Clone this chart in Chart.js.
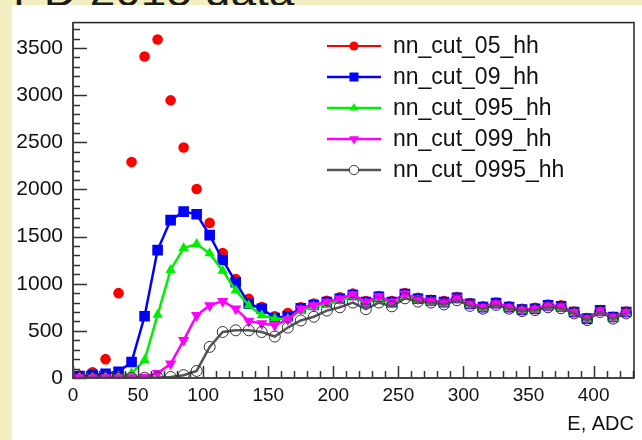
<!DOCTYPE html>
<html>
<head>
<meta charset="utf-8">
<script src="https://cdn.jsdelivr.net/npm/chart.js@4.4.0/dist/chart.umd.min.js"></script>
<style>
  body { margin: 0; background: #f1efc1; width: 642px; height: 440px; overflow: hidden; position: relative; }
  #title { position: absolute; left: 13px; top: -33px; font: 46px "Liberation Sans", Arial, sans-serif; line-height: 46px; color: #1b1b1b; white-space: nowrap; }
  #pad { position: absolute; left: 12px; top: 5px; width: 630px; height: 435px; background: #fff; }
  #c { position: absolute; left: 0; top: 0; }
</style>
</head>
<body>
<div id="title">PD 2015 data</div>
<div id="pad"></div>
<canvas id="c" width="642" height="440"></canvas>
<script>
// bin centres on E, ADC (10 ADC wide bins)
const binCenters = [5, 15, 25, 35, 45, 55, 65, 75, 85, 95, 105, 115, 125, 135, 145, 155, 165, 175, 185, 195,
    205, 215, 225, 235, 245, 255, 265, 275, 285, 295, 305, 315, 325, 335, 345, 355, 365, 375, 385, 395,
    405, 415, 425];

const cut05 = [25, 60, 200, 900, 2290, 3410, 3590, 2945, 2445, 2005, 1645, 1325, 1050, 840, 752, 655, 690, 750, 790, 820,
    855, 895, 815, 870, 815, 900, 850, 830, 815, 860, 795, 760, 800, 760, 735, 745, 780, 770, 705, 635,
    720, 650, 705];
const cut09 = [20, 30, 45, 65, 170, 655, 1357, 1675, 1765, 1737, 1516, 1252, 1016, 788, 735, 636, 654, 740, 775, 805,
    840, 880, 805, 860, 805, 890, 840, 823, 805, 850, 788, 752, 794, 752, 725, 735, 770, 760, 700, 630,
    717, 647, 700];
const cut095 = [5, 5, 10, 15, 50, 190, 670, 1146, 1378, 1421, 1322, 1139, 928, 770, 665, 630, 625, 715, 755, 785,
    820, 865, 790, 845, 790, 875, 825, 810, 790, 835, 775, 740, 780, 740, 715, 725, 755, 745, 690, 620,
    705, 635, 690];
const cut099 = [5, 5, 5, 5, 5, 10, 50, 150, 400, 665, 770, 815, 735, 605, 577, 560, 620, 735, 770, 805,
    840, 885, 805, 865, 805, 893, 840, 823, 805, 850, 788, 752, 794, 752, 725, 735, 770, 760, 700, 630,
    717, 647, 700];
const cut0995 = [2, 2, 2, 2, 2, 3, 5, 10, 30, 75, 330, 488, 506, 506, 488, 440, 535, 610, 650, 715,
    750, 800, 730, 800, 760, 845, 810, 800, 780, 825, 765, 735, 775, 735, 710, 720, 750, 740, 685, 615,
    700, 630, 685];

const seriesNames = ['nn_cut_05_hh', 'nn_cut_09_hh', 'nn_cut_095_hh', 'nn_cut_099_hh', 'nn_cut_0995_hh'];
const xTickValues = [0, 50, 100, 150, 200, 250, 300, 350, 400];
const yTickValues = [0, 500, 1000, 1500, 2000, 2500, 3000, 3500];

const FONT = '"Liberation Sans", Arial, Helvetica, sans-serif';

function pts(values) {
    return values.map((v, i) => ({ x: binCenters[i], y: v }));
}

const datasets = [
    { label: seriesNames[0], data: pts(cut05), borderColor: '#ff0000', backgroundColor: '#ff0000',
      showLine: false, pointStyle: 'circle', pointRadius: 5.3, pointBorderWidth: 0, borderWidth: 2, order: 5 },
    { label: seriesNames[1], data: pts(cut09), borderColor: '#0000ff', backgroundColor: '#0000ff',
      pointStyle: 'rect', pointRadius: 7.5, pointBorderWidth: 0, borderWidth: 2.5, order: 4 },
    { label: seriesNames[2], data: pts(cut095), borderColor: '#00ee00', backgroundColor: '#00ee00',
      pointStyle: 'triangle', pointRadius: 6, pointBorderWidth: 0, borderWidth: 2.5, order: 3 },
    { label: seriesNames[3], data: pts(cut099), borderColor: '#ff00ff', backgroundColor: '#ff00ff',
      pointStyle: 'triangle', pointRotation: 180, pointRadius: 6.5, pointBorderWidth: 0, borderWidth: 2.5, order: 2 },
    { label: seriesNames[4], data: pts(cut0995), borderColor: '#555555', backgroundColor: 'rgba(0,0,0,0)',
      pointBorderColor: '#333333', pointBackgroundColor: 'rgba(0,0,0,0)',
      pointStyle: 'circle', pointRadius: 5.5, pointBorderWidth: 1, borderWidth: 2.5, order: 1 }
];

// ROOT-like frame, inward ticks and line+marker legend
const rootFrame = {
    id: 'rootFrame',
    afterDatasetsDraw(chart) {
        const ctx = chart.ctx;
        const a = chart.chartArea;
        const xs = chart.scales.x, ys = chart.scales.y;
        ctx.save();
        ctx.strokeStyle = '#333';
        ctx.lineWidth = 1.5;
        ctx.beginPath();
        for (let v = 0; v <= xs.max; v += 10) {
            const px = Math.round(xs.getPixelForValue(v)) + 0.5;
            const len = v % 50 === 0 ? 12 : 7;
            ctx.moveTo(px, a.bottom);
            ctx.lineTo(px, a.bottom - len);
        }
        for (let v = 0; v <= ys.max; v += 100) {
            const py = Math.round(ys.getPixelForValue(v)) + 0.5;
            const len = v % 500 === 0 ? 14 : 7;
            ctx.moveTo(a.left, py);
            ctx.lineTo(a.left + len, py);
        }
        ctx.stroke();
        ctx.strokeStyle = '#222';
        ctx.lineWidth = 1.5;
        ctx.strokeRect(a.left, a.top, a.right - a.left, a.bottom - a.top);
        ctx.lineWidth = 2;
        ctx.strokeStyle = '#444';
        ctx.beginPath();
        ctx.moveTo(a.left, a.top);
        ctx.lineTo(a.left, a.bottom);
        ctx.lineTo(a.right, a.bottom);
        ctx.stroke();

        // legend
        const x0 = 327, x1 = 381, xm = 354, tx = 393, y0 = 46, dy = 31;
        chart.data.datasets.forEach((ds, i) => {
            const y = y0 + i * dy;
            ctx.strokeStyle = ds.borderColor;
            ctx.lineWidth = ds.borderWidth;
            ctx.beginPath();
            ctx.moveTo(x0, y);
            ctx.lineTo(x1, y);
            ctx.stroke();
            ctx.fillStyle = ds.pointBackgroundColor || ds.backgroundColor;
            if (ds.label === seriesNames[4]) ctx.fillStyle = '#ffffff';
            ctx.strokeStyle = ds.pointBorderColor || ds.borderColor;
            ctx.lineWidth = ds.pointBorderWidth;
            Chart.helpers.drawPoint(ctx, {
                pointStyle: ds.pointStyle,
                radius: ds.pointRadius * 0.85,
                rotation: ds.pointRotation || 0,
                borderWidth: ds.pointBorderWidth
            }, xm, y);
            ctx.fillStyle = '#111';
            ctx.font = '23px ' + FONT;
            ctx.textAlign = 'left';
            ctx.textBaseline = 'middle';
            ctx.fillText(ds.label, tx, y + 1);
        });
        ctx.restore();
    }
};

new Chart(document.getElementById('c').getContext('2d'), {
    type: 'line',
    data: { datasets },
    options: {
        responsive: false,
        animation: false,
        devicePixelRatio: 1,
        layout: { padding: { top: 21, right: 8, left: 0, bottom: 0 } },
        plugins: { legend: { display: false }, tooltip: { enabled: false } },
        elements: { line: { tension: 0 } },
        scales: {
            x: {
                type: 'linear',
                min: 0,
                max: 431,
                afterFit: s => { s.height = 62; },
                afterBuildTicks: s => { s.ticks = xTickValues.map(v => ({ value: v })); },
                grid: { display: false, drawTicks: false },
                border: { display: false },
                ticks: { padding: 6, color: '#111', maxRotation: 0, autoSkip: false,
                         font: { size: 19, family: FONT }, callback: v => String(v) },
                title: { display: true, text: 'E, ADC', align: 'end', color: '#111',
                         font: { size: 20, family: FONT }, padding: { top: 0, bottom: 4 } }
            },
            y: {
                min: 0,
                max: 3770,
                afterFit: s => { s.width = 73; },
                afterBuildTicks: s => { s.ticks = yTickValues.map(v => ({ value: v })); },
                grid: { display: false, drawTicks: false },
                border: { display: false },
                ticks: { padding: 10, color: '#111', font: { size: 21, family: FONT }, callback: v => String(v) }
            }
        }
    },
    plugins: [rootFrame]
});
</script>
</body>
</html>
